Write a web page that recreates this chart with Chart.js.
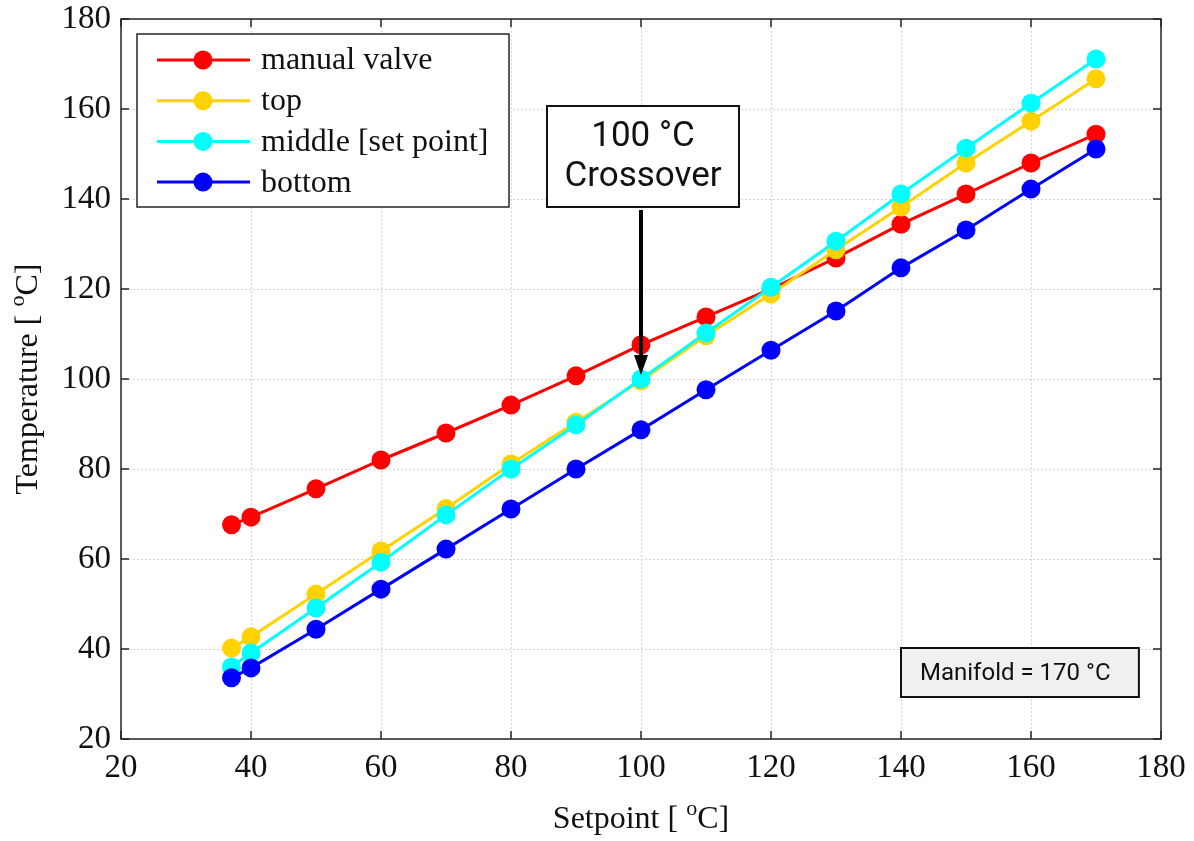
<!DOCTYPE html>
<html>
<head>
<meta charset="utf-8">
<script src="https://cdn.jsdelivr.net/npm/chart.js@4/dist/chart.umd.min.js"></script>
<style>
  html, body { margin: 0; padding: 0; background: #fff; }
  #wrap { width: 1194px; height: 841px; }
</style>
</head>
<body>
<div id="wrap"><canvas id="chart" width="1194" height="841"></canvas></div>
<script>
const SERIF = '"Liberation Serif", "Times New Roman", serif';
const SANS = 'Roboto, "Noto Sans", sans-serif';

const setpoints = [37, 40, 50, 60, 70, 80, 90, 100, 110, 120, 130, 140, 150, 160, 170];
const manualValve = [67.6, 69.3, 75.6, 82.0, 88.0, 94.2, 100.7, 107.6, 113.8, 120.0, 126.9, 134.4, 141.1, 148.0, 154.4];
const topZone = [40.2, 42.7, 52.2, 61.8, 71.2, 81.1, 90.4, 99.6, 109.6, 118.9, 128.7, 138.2, 148.0, 157.3, 166.7];
const middleZone = [36.0, 39.1, 49.1, 59.3, 69.8, 80.0, 89.8, 100.0, 110.2, 120.4, 130.6, 141.1, 151.3, 161.3, 171.1];
const bottomZone = [33.6, 35.8, 44.4, 53.3, 62.2, 71.1, 80.0, 88.7, 97.6, 106.4, 115.1, 124.7, 133.1, 142.2, 151.1];

const seriesLabels = ['manual valve', 'top', 'middle [set point]', 'bottom'];
const seriesColors = ['#ff0000', '#ffd200', '#00ffff', '#0000ff'];
const seriesValues = [manualValve, topZone, middleZone, bottomZone];

const crossoverAt = { x: 100, y: 100 };
const crossoverText = ['100 °C', 'Crossover'];
const manifoldText = 'Manifold = 170 °C';
const xTitle = ['Setpoint [ ', 'o', 'C]'];
const yTitle = ['Temperature [ ', 'o', 'C]'];

const AXIS_MIN = 20, AXIS_MAX = 180, AXIS_STEP = 20;

function toPoints(values) {
  return setpoints.map((x, i) => ({ x, y: values[i] }));
}

// text with a raised small "o" in the middle part, centred on (0,0)
function drawSupTitle(ctx, parts, size) {
  const big = size + 'px ' + SERIF, small = Math.round(size * 0.68) + 'px ' + SERIF;
  ctx.font = big;
  const w0 = ctx.measureText(parts[0]).width, w2 = ctx.measureText(parts[2]).width;
  ctx.font = small;
  const w1 = ctx.measureText(parts[1]).width;
  let x = -(w0 + w1 + w2) / 2;
  ctx.textAlign = 'left';
  ctx.textBaseline = 'alphabetic';
  ctx.font = big;
  ctx.fillText(parts[0], x, 0);
  x += w0;
  ctx.font = small;
  ctx.fillText(parts[1], x, -size * 0.4);
  x += w1;
  ctx.font = big;
  ctx.fillText(parts[2], x, 0);
}

// frame box with inward ticks on all four sides, plus axis titles
const framePlugin = {
  id: 'frame',
  afterDatasetsDraw(chart) {
    const { ctx, chartArea: a, scales } = chart;
    ctx.save();
    ctx.strokeStyle = '#262626';
    ctx.lineWidth = 1.5;
    ctx.strokeRect(a.left, a.top, a.right - a.left, a.bottom - a.top);
    const len = 8;
    ctx.beginPath();
    for (let v = AXIS_MIN; v <= AXIS_MAX; v += AXIS_STEP) {
      const px = scales.x.getPixelForValue(v);
      ctx.moveTo(px, a.bottom); ctx.lineTo(px, a.bottom - len);
      ctx.moveTo(px, a.top); ctx.lineTo(px, a.top + len);
      const py = scales.y.getPixelForValue(v);
      ctx.moveTo(a.left, py); ctx.lineTo(a.left + len, py);
      ctx.moveTo(a.right, py); ctx.lineTo(a.right - len, py);
    }
    ctx.stroke();

    ctx.fillStyle = '#111';
    ctx.save();
    ctx.translate((a.left + a.right) / 2, 828);
    drawSupTitle(ctx, xTitle, 32);
    ctx.restore();
    ctx.save();
    ctx.translate(37, (a.top + a.bottom) / 2);
    ctx.rotate(-Math.PI / 2);
    drawSupTitle(ctx, yTitle, 32);
    ctx.restore();
    ctx.restore();
  }
};

// legend box: line + marker per series
const legendPlugin = {
  id: 'boxLegend',
  afterDatasetsDraw(chart) {
    const { ctx, chartArea: a } = chart;
    const x0 = a.left + 16, y0 = a.top + 15, w = 372, h = 173;
    ctx.save();
    ctx.fillStyle = '#fff';
    ctx.fillRect(x0, y0, w, h);
    ctx.strokeStyle = '#262626';
    ctx.lineWidth = 1.5;
    ctx.strokeRect(x0, y0, w, h);
    ctx.font = '32px ' + SERIF;
    ctx.textBaseline = 'middle';
    seriesLabels.forEach((label, i) => {
      const y = y0 + 26 + i * 40.7;
      ctx.strokeStyle = seriesColors[i];
      ctx.lineWidth = 3;
      ctx.beginPath();
      ctx.moveTo(x0 + 20, y); ctx.lineTo(x0 + 113, y);
      ctx.stroke();
      ctx.fillStyle = seriesColors[i];
      ctx.beginPath();
      ctx.arc(x0 + 66, y, 9.5, 0, Math.PI * 2);
      ctx.fill();
      ctx.fillStyle = '#111';
      ctx.fillText(label, x0 + 124, y + 1);
    });
    ctx.restore();
  }
};

// "100 °C Crossover" callout and the manifold note
const notesPlugin = {
  id: 'notes',
  afterDatasetsDraw(chart) {
    const { ctx, chartArea: a, scales } = chart;
    ctx.save();
    const cx = scales.x.getPixelForValue(crossoverAt.x);
    const tipY = scales.y.getPixelForValue(crossoverAt.y) - 4;
    const bw = 192, bt = a.top + 87, bh = 101;
    ctx.fillStyle = '#fff';
    ctx.fillRect(cx - bw / 2 + 2, bt, bw, bh);
    ctx.strokeStyle = '#111';
    ctx.lineWidth = 2;
    ctx.strokeRect(cx - bw / 2 + 2, bt, bw, bh);
    ctx.fillStyle = '#111';
    ctx.font = '35px ' + SANS;
    ctx.textAlign = 'center';
    ctx.textBaseline = 'middle';
    ctx.fillText(crossoverText[0], cx + 2, bt + 31);
    ctx.fillText(crossoverText[1], cx + 2, bt + 71);

    // arrow
    ctx.strokeStyle = '#000';
    ctx.lineWidth = 4;
    ctx.beginPath();
    ctx.moveTo(cx, bt + bh + 3);
    ctx.lineTo(cx, tipY - 16);
    ctx.stroke();
    ctx.beginPath();
    ctx.moveTo(cx, tipY);
    ctx.lineTo(cx - 7, tipY - 20);
    ctx.lineTo(cx + 7, tipY - 20);
    ctx.closePath();
    ctx.fillStyle = '#000';
    ctx.fill();

    // manifold box
    const mx = scales.x.getPixelForValue(140), mr = scales.x.getPixelForValue(176.6);
    const my = a.bottom - 91, mh = 49;
    ctx.fillStyle = '#f0f0f0';
    ctx.fillRect(mx, my, mr - mx, mh);
    ctx.strokeStyle = '#111';
    ctx.lineWidth = 2;
    ctx.strokeRect(mx, my, mr - mx, mh);
    ctx.fillStyle = '#111';
    ctx.font = '24px ' + SANS;
    ctx.textAlign = 'left';
    ctx.fillText(manifoldText, mx + 19, my + mh / 2 + 1);
    ctx.restore();
  }
};

const datasets = seriesLabels.map((label, i) => ({
  label,
  data: toPoints(seriesValues[i]),
  borderColor: seriesColors[i],
  backgroundColor: seriesColors[i],
  borderWidth: 3,
  pointRadius: 9.5,
  pointBorderWidth: 0,
  pointHoverRadius: 9.5,
  tension: 0,
  order: 4 - i
}));

const gridCfg = { color: '#d4d4d4', lineWidth: 1, drawTicks: false };
const borderCfg = { display: false, dash: [2, 2] };

new Chart(document.getElementById('chart'), {
  type: 'line',
  data: { datasets },
  options: {
    responsive: false,
    animation: false,
    layout: { padding: { left: 0, top: 19, right: 33, bottom: 0 } },
    plugins: {
      legend: { display: false },
      tooltip: { enabled: false }
    },
    scales: {
      x: {
        type: 'linear',
        min: AXIS_MIN,
        max: AXIS_MAX,
        grid: gridCfg,
        border: borderCfg,
        ticks: {
          stepSize: AXIS_STEP,
          color: '#111',
          padding: 10,
          maxRotation: 0,
          font: { family: SERIF, size: 33 }
        },
        afterFit(scale) {
          scale.height = 102;
          scale.paddingLeft = 0;
          scale.paddingRight = 0;
        }
      },
      y: {
        min: AXIS_MIN,
        max: AXIS_MAX,
        grid: gridCfg,
        border: borderCfg,
        ticks: {
          stepSize: AXIS_STEP,
          color: '#111',
          padding: 10,
          font: { family: SERIF, size: 33 }
        },
        afterFit(scale) {
          scale.width = 121;
          scale.paddingTop = 0;
          scale.paddingBottom = 0;
        }
      }
    }
  },
  plugins: [framePlugin, legendPlugin, notesPlugin]
});
</script>
</body>
</html>
